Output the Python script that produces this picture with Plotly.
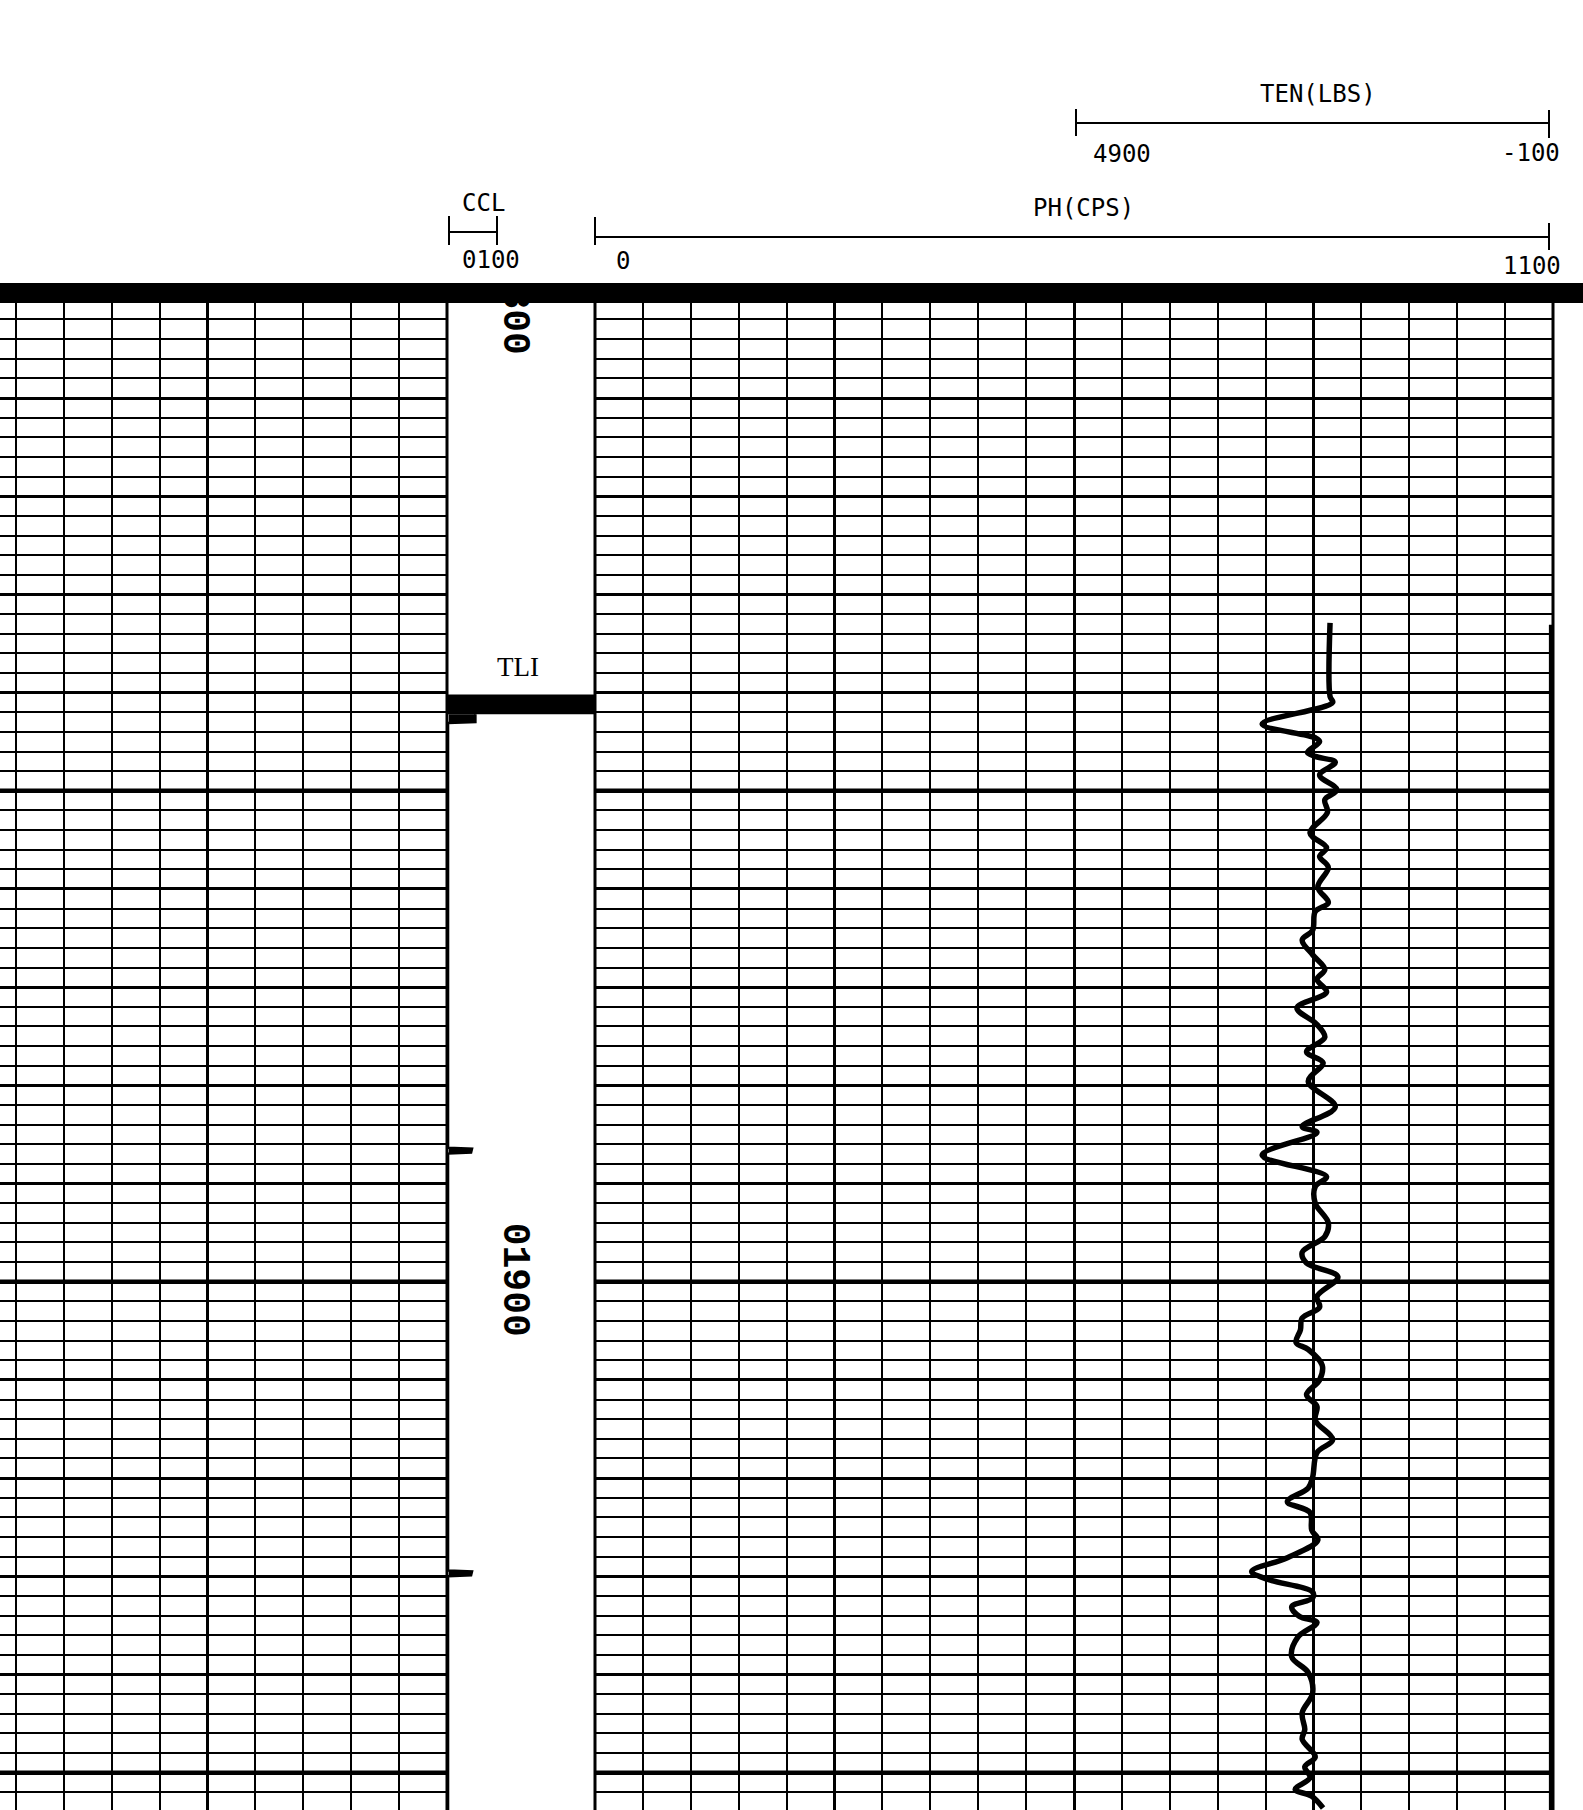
import plotly.graph_objects as go

# ---------------- data ----------------
# PH (CPS) curve: depth (ft) and counts
PH_DEPTH = [1832.9, 1840.4, 1841.0, 1843.2, 1844.6, 1845.0, 1846.1, 1846.5, 1847.1, 1848.4,
            1849.9, 1850.9, 1852.2, 1854.3, 1855.8, 1856.7, 1857.8, 1859.8, 1861.4, 1862.3,
            1864.2, 1865.2, 1866.7, 1868.2, 1869.2, 1870.5, 1872.1, 1873.8, 1875.1, 1876.6,
            1877.7, 1879.6, 1882.2, 1884.2, 1884.8, 1887.1, 1889.3, 1890.3, 1892.0, 1894.0,
            1895.4, 1897.0, 1898.1, 1899.5, 1901.5, 1902.6, 1903.7, 1904.9, 1906.2, 1906.9,
            1908.5, 1910.0, 1911.5, 1912.7, 1914.1, 1916.1, 1917.4, 1919.9, 1921.0, 1922.4,
            1923.5, 1925.3, 1926.3, 1928.1, 1929.5, 1930.3, 1931.6, 1932.2, 1933.1, 1934.1,
            1934.7, 1936.2, 1938.2, 1939.8, 1941.9, 1943.9, 1945.6, 1946.6, 1948.4, 1949.4,
            1950.5, 1951.7, 1952.4, 1953.6]
PH_VALUE = [844, 844, 847, 766, 827, 832, 818, 827, 850, 832,
            852, 838, 841, 821, 840, 832, 842, 830, 842, 827,
            824, 812, 824, 838, 829, 840, 806, 829, 838, 817,
            836, 819, 850, 812, 829, 766, 840, 827, 827, 842,
            838, 812, 817, 853, 829, 832, 812, 810, 805, 819,
            835, 832, 817, 829, 827, 847, 829, 824, 819, 795,
            821, 823, 830, 795, 754, 772, 824, 824, 800, 809,
            829, 807, 800, 819, 824, 812, 815, 812, 827, 815,
            821, 804, 823, 836]

# TEN (LBS) curve
TEN_DEPTH = [1833.1, 1953.8]
TEN_VALUE = [-120, -120]

# CCL curve
CCL_DEPTH = [1842.2, 1842.3, 1843.0, 1843.1, 1886.35, 1886.45, 1886.85, 1886.95,
             1929.4, 1929.5, 1929.9, 1930.0, 1953.8]
CCL_VALUE = [55, 55, 55, -2, -2, 48, 46, -2, -2, 48, 46, -2, -2]

# TLI marker
TLI_TOP = 1840.2
TLI_BOTTOM = 1842.2

# depth labels
DEPTH_LABELS = [1800, 1900]
DEPTH_LABEL_TEXT = ["01800", "01900"]

# depth grid
DEPTH_TOP = 1799.2
DEPTH_BOTTOM = 1953.8
HEAVY_DEPTHS = [1850, 1900, 1950]

# scales
PH_RANGE = [0, 1100]
TEN_RANGE = [9984.6, -142.3]
CCL_RANGE = [-4.17, 304.2]

assert len(PH_DEPTH) == len(PH_VALUE)
assert len(CCL_DEPTH) == len(CCL_VALUE)

# ---------------- figure ----------------
W, H = 1583, 1810


def fx(px):
    return px / W


def fy(py):
    return 1 - py / H


BLACK = "black"
HDR_FONT = dict(family="DejaVu Sans Mono", size=24, color=BLACK)

fig = go.Figure()

# empty trace for the left track so its subplot exists
fig.add_trace(go.Scatter(x=[None], y=[None], xaxis="x", yaxis="y",
                         showlegend=False, hoverinfo="skip"))

fig.add_trace(go.Scatter(x=PH_VALUE, y=PH_DEPTH, xaxis="x2", yaxis="y", mode="lines",
                         line=dict(color=BLACK, width=5.5, shape="spline", smoothing=1.0),
                         showlegend=False, name="PH"))

fig.add_trace(go.Scatter(x=TEN_VALUE, y=TEN_DEPTH, xaxis="x4", yaxis="y", mode="lines",
                         line=dict(color=BLACK, width=4), showlegend=False, name="TEN"))

fig.add_trace(go.Scatter(x=CCL_VALUE, y=CCL_DEPTH, xaxis="x3", yaxis="y3", mode="lines",
                         fill="tozerox", fillcolor=BLACK,
                         line=dict(color=BLACK, width=2.5), showlegend=False, name="CCL"))

fig.add_trace(go.Bar(x=[137.5] * len(DEPTH_LABELS), y=[20] * len(DEPTH_LABELS),
                     base=[d - 10.2 for d in DEPTH_LABELS], width=140,
                     text=DEPTH_LABEL_TEXT, textposition="inside",
                     insidetextanchor="middle", textangle=90,
                     textfont=dict(family="Liberation Mono", size=38, color=BLACK,
                                   weight="bold"),
                     marker=dict(color="rgba(0,0,0,0)", line=dict(width=0)),
                     xaxis="x3", yaxis="y3", showlegend=False, hoverinfo="skip"))

grid_common = dict(showticklabels=False, ticks="", zeroline=False, showline=False,
                   fixedrange=True)

fig.update_layout(
    width=W, height=H,
    margin=dict(l=0, r=0, t=0, b=0),
    paper_bgcolor="white", plot_bgcolor="rgba(0,0,0,0)",
    barmode="overlay",
    xaxis=dict(domain=[0, fx(447)], range=[0.67, 10], tick0=0, dtick=5,
               showgrid=True, gridcolor=BLACK, gridwidth=3,
               minor=dict(dtick=1, showgrid=True, gridcolor=BLACK, gridwidth=2.2),
               anchor="y", **grid_common),
    xaxis2=dict(domain=[fx(595), fx(1553)], range=PH_RANGE, tick0=0, dtick=275,
                showgrid=True, gridcolor=BLACK, gridwidth=3,
                minor=dict(dtick=55, showgrid=True, gridcolor=BLACK, gridwidth=2.2),
                anchor="y", **grid_common),
    xaxis3=dict(domain=[fx(447), fx(595)], range=CCL_RANGE, visible=False,
                showgrid=False, anchor="y3", fixedrange=True),
    xaxis4=dict(overlaying="x2", range=TEN_RANGE, visible=False, showgrid=False,
                anchor="y", fixedrange=True),
    yaxis=dict(domain=[0, fy(292)], range=[DEPTH_BOTTOM, DEPTH_TOP], tick0=1800, dtick=10,
               showgrid=True, gridcolor=BLACK, gridwidth=3,
               minor=dict(dtick=2, showgrid=True, gridcolor=BLACK, gridwidth=2.2),
               anchor="x", **grid_common),
    yaxis3=dict(domain=[0, fy(292)], range=[DEPTH_BOTTOM, DEPTH_TOP], visible=False,
                showgrid=False, anchor="x3", fixedrange=True),
)

shapes = []
# heavy 50-ft lines on both grid tracks
for d in HEAVY_DEPTHS:
    for xr in ["x domain", "x2 domain"]:
        shapes.append(dict(type="line", xref=xr, x0=0, x1=1, yref="y", y0=d, y1=d,
                           line=dict(color=BLACK, width=4.5), layer="below"))
# track borders
for xr, xv in [("x domain", 1), ("x2 domain", 0), ("x2 domain", 1)]:
    shapes.append(dict(type="line", xref=xr, x0=xv, x1=xv, yref="y domain", y0=0, y1=1,
                       line=dict(color=BLACK, width=3), layer="below"))
# TLI band
shapes.append(dict(type="rect", xref="x3 domain", x0=0, x1=1, yref="y3",
                   y0=TLI_TOP, y1=TLI_BOTTOM, fillcolor=BLACK, line=dict(width=0),
                   layer="above"))
# top heavy band
shapes.append(dict(type="rect", xref="paper", x0=0, x1=1, yref="paper",
                   y0=fy(303), y1=fy(283), fillcolor=BLACK, line=dict(width=0),
                   layer="above"))


def hline(x0, x1, y, w=2):
    shapes.append(dict(type="line", xref="paper", yref="paper", x0=fx(x0), x1=fx(x1),
                       y0=fy(y), y1=fy(y), line=dict(color=BLACK, width=w)))


def vline(x, y0, y1, w=2):
    shapes.append(dict(type="line", xref="paper", yref="paper", x0=fx(x), x1=fx(x),
                       y0=fy(y0), y1=fy(y1), line=dict(color=BLACK, width=w)))


# TEN scale bar
hline(1076, 1549, 123)
vline(1076, 109, 136)
vline(1549, 110, 138)
# PH scale bar
hline(595, 1549, 237)
vline(595, 217, 245)
vline(1549, 223, 250)
# CCL scale bar
hline(449, 497, 232)
vline(449, 216, 245)
vline(497, 216, 245)

fig.update_layout(shapes=shapes)

annotations = []


def label(text, x, y, font=HDR_FONT):
    annotations.append(dict(text=text, x=fx(x), y=fy(y), xref="paper", yref="paper",
                            showarrow=False, xanchor="center", yanchor="middle",
                            font=font))


label("TEN(LBS)", 1318, 94)
label("4900", 1122, 154)
label("-100", 1531, 153)
label("PH(CPS)", 1083, 208)
label("0", 623, 261)
label("1100", 1532, 266)
label("CCL", 483, 203)
label("0100", 491, 260)
label("TLI", 518, 667, dict(family="Liberation Serif", size=27, color=BLACK))

fig.update_layout(annotations=annotations)

fig.write_html("out.html", config={"displayModeBar": False},
               post_script="document.body.style.margin='0';")
